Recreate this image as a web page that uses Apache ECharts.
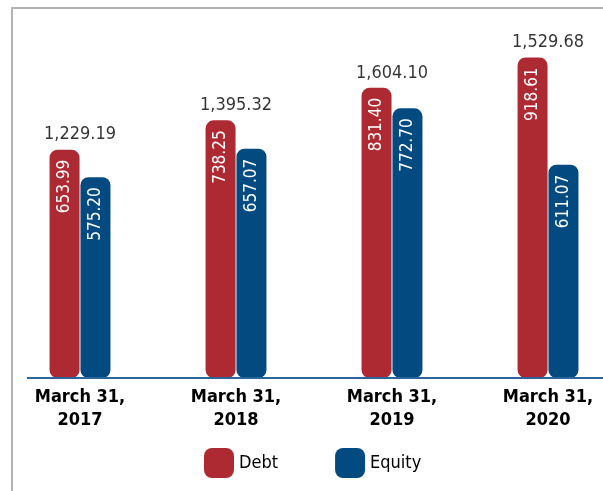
<!DOCTYPE html>
<html><head><meta charset="utf-8">
<script src="https://cdn.jsdelivr.net/npm/echarts@6/dist/echarts.min.js"></script>
<style>html,body{margin:0;padding:0;background:#fff}#c{width:603px;height:491px}</style>
</head><body><div id="c"></div>
<script>
var categories = ['March 31,\n2017', 'March 31,\n2018', 'March 31,\n2019', 'March 31,\n2020'];
var debt = [653.99, 738.25, 831.40, 918.61];
var equity = [575.20, 657.07, 772.70, 611.07];
var totals = [1229.19, 1395.32, 1604.10, 1529.68];
var FONT = '"DejaVu Sans Condensed", "Liberation Sans Narrow", sans-serif';
function fmt(v){ return v.toLocaleString('en-US',{minimumFractionDigits:2,maximumFractionDigits:2}); }
var chart = echarts.init(document.getElementById('c'));
var peaks = debt.map(function(d,i){ return Math.max(d, equity[i]); });
chart.setOption({
  animation:false,
  grid:{left:2, width:624, top:29, height:349, containLabel:false, outerBoundsMode:'none'},
  xAxis:{type:'category', data:categories, axisLine:{show:false}, axisTick:{show:false},
    axisLabel:{interval:0, margin:8, fontFamily:FONT, fontWeight:'bold', fontSize:18, color:'#000', lineHeight:23}},
  yAxis:{type:'value', min:0, max:1000, show:false, splitLine:{show:false}},
  legend:{left:204, top:448, padding:0, itemWidth:30, itemHeight:30, itemGap:57,
    textStyle:{fontFamily:FONT, fontSize:18, color:'#000'},
    icon:'path://M8,0 H22 A8,8 0 0 1 30,8 V22 A8,8 0 0 1 22,30 H8 A8,8 0 0 1 0,22 V8 A8,8 0 0 1 8,0 Z',
    data:['Debt','Equity']},
  graphic:[
    {type:'polyline', shape:{points:[[12,491],[12,8],[603,8]]}, style:{stroke:'#b3b3b3', lineWidth:2, fill:null}, z:0},
    {type:'line', shape:{x1:27,y1:378,x2:603,y2:378}, style:{stroke:'#2c649c', lineWidth:2}, z:10}
  ],
  series:[
    {name:'Debt', type:'bar', data:debt, barWidth:30, barGap:'3%',
      itemStyle:{color:'#ae2a33', borderRadius:8},
      label:{show:true, position:'insideTop', rotate:90, align:'right', verticalAlign:'middle', distance:10,
        color:'#fff', fontFamily:FONT, fontSize:17, formatter:function(p){return p.value.toFixed(2);}}},
    {name:'Equity', type:'bar', data:equity, barWidth:30,
      itemStyle:{color:'#034a80', borderRadius:8},
      label:{show:true, position:'insideTop', rotate:90, align:'right', verticalAlign:'middle', distance:10,
        color:'#fff', fontFamily:FONT, fontSize:17, formatter:function(p){return p.value.toFixed(2);}}},
    {name:'Total', type:'scatter', data:peaks, symbolSize:0, silent:true,
      label:{show:true, position:'top', distance:6, color:'#000', fontFamily:FONT, fontSize:18,
        formatter:function(p){return fmt(totals[p.dataIndex]);}}}
  ]
});
</script></body></html>
